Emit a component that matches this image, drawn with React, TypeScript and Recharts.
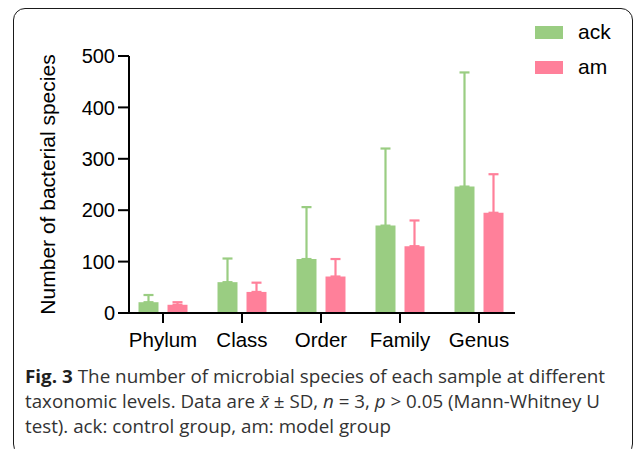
import React from "react"
import { BarChart, Bar, XAxis, YAxis, ErrorBar, Legend } from "recharts"

const categories = ["Phylum", "Class", "Order", "Family", "Genus"]
const ackMean = [21, 60, 105, 170, 246]
const ackSD = [14, 46, 101, 150, 222]
const amMean = [16, 41, 71, 130, 195]
const amSD = [5, 18, 34, 50, 75]
const yTicks = [0, 100, 200, 300, 400, 500]

const GREEN = "#9ACD82"
const PINK = "#FF809A"
const FONT = "'Liberation Sans', Arial, sans-serif"

const data = categories.map((name, i) => ({
  name,
  ack: ackMean[i],
  am: amMean[i],
  ackErr: [0, ackSD[i]],
  amErr: [0, amSD[i]],
}))

function YLabel({ viewBox }: any) {
  const cy = viewBox.y + viewBox.height / 2
  const x = 55
  return (
    <text
      x={x}
      y={cy}
      transform={`rotate(-90, ${x}, ${cy})`}
      textAnchor="middle"
      fontSize={21}
      fontFamily={FONT}
      fill="#000"
    >
      Number of bacterial species
    </text>
  )
}

function renderLegend(props: any) {
  const { payload } = props
  return (
    <svg width={100} height={70}>
      {payload.map((entry: any, i: number) => (
        <g key={entry.value}>
          <rect x={5} y={6 + i * 35} width={28} height={13} fill={entry.color} />
          <text x={48} y={19 + i * 35} fontSize={21} fontFamily={FONT} fill="#000">
            {entry.value}
          </text>
        </g>
      ))}
    </svg>
  )
}

export default function App() {
  return (
    <div style={{ position: "absolute", left: 0, top: 0, width: 637, height: 449, background: "#fff", overflow: "hidden" }}>
      <div
        style={{
          position: "absolute",
          left: 13,
          top: 8,
          width: 620,
          height: 448,
          border: "1.5px solid #1a1a1a",
          borderRadius: 12,
          boxSizing: "border-box",
        }}
      />
      <div style={{ position: "absolute", left: 0, top: 0 }}>
        <BarChart
          width={637}
          height={360}
          data={data}
          margin={{ top: 56, right: 122, left: 10, bottom: 7 }}
          barSize={20}
          barGap={9}
        >
          <XAxis
            dataKey="name"
            height={40}
            padding={{ left: -5.5, right: -3.5 }}
            axisLine={{ stroke: "#000", strokeWidth: 2 }}
            tickLine={{ stroke: "#000", strokeWidth: 2 }}
            tickSize={10}
            tickMargin={9}
            tick={{ fill: "#000", fontSize: 20.5, fontFamily: FONT }}
            interval={0}
          />
          <YAxis
            width={119}
            domain={[0, 500]}
            ticks={yTicks}
            allowDataOverflow
            axisLine={{ stroke: "#000", strokeWidth: 2 }}
            tickLine={{ stroke: "#000", strokeWidth: 2 }}
            tickSize={11}
            tickMargin={3}
            tick={{ fill: "#000", fontSize: 20, fontFamily: FONT }}
            label={<YLabel />}
          />
          <Legend
            layout="vertical"
            align="center"
            verticalAlign="middle"
            content={renderLegend}
            wrapperStyle={{ top: 20, left: 530, width: 100, height: 70 }}
          />
          <Bar dataKey="ack" name="ack" fill={GREEN} isAnimationActive={false}>
            <ErrorBar dataKey="ackErr" direction="y" width={5} strokeWidth={2.2} stroke={GREEN} isAnimationActive={false} />
          </Bar>
          <Bar dataKey="am" name="am" fill={PINK} isAnimationActive={false}>
            <ErrorBar dataKey="amErr" direction="y" width={5} strokeWidth={2.2} stroke={PINK} isAnimationActive={false} />
          </Bar>
        </BarChart>
      </div>
      <svg style={{ position: "absolute", left: 0, top: 355 }} width={637} height={94}>
        <g fontFamily="'Open Sans', sans-serif" fontSize={18} fill="#333">
          <text x={25} y={28} textLength={580} lengthAdjust="spacingAndGlyphs">
            <tspan fontWeight="bold" fill="#1f1f1f">Fig. 3</tspan> The number of microbial species of each sample at different
          </text>
          <text x={25} y={53} textLength={575} lengthAdjust="spacingAndGlyphs">
            taxonomic levels. Data are <tspan fontStyle="italic">x̄</tspan> ± SD, <tspan fontStyle="italic">n</tspan> = 3, <tspan fontStyle="italic">p</tspan> &gt; 0.05 (Mann-Whitney U
          </text>
          <text x={25} y={78} textLength={366} lengthAdjust="spacingAndGlyphs">
            test). ack: control group, am: model group
          </text>
        </g>
      </svg>
    </div>
  )
}
